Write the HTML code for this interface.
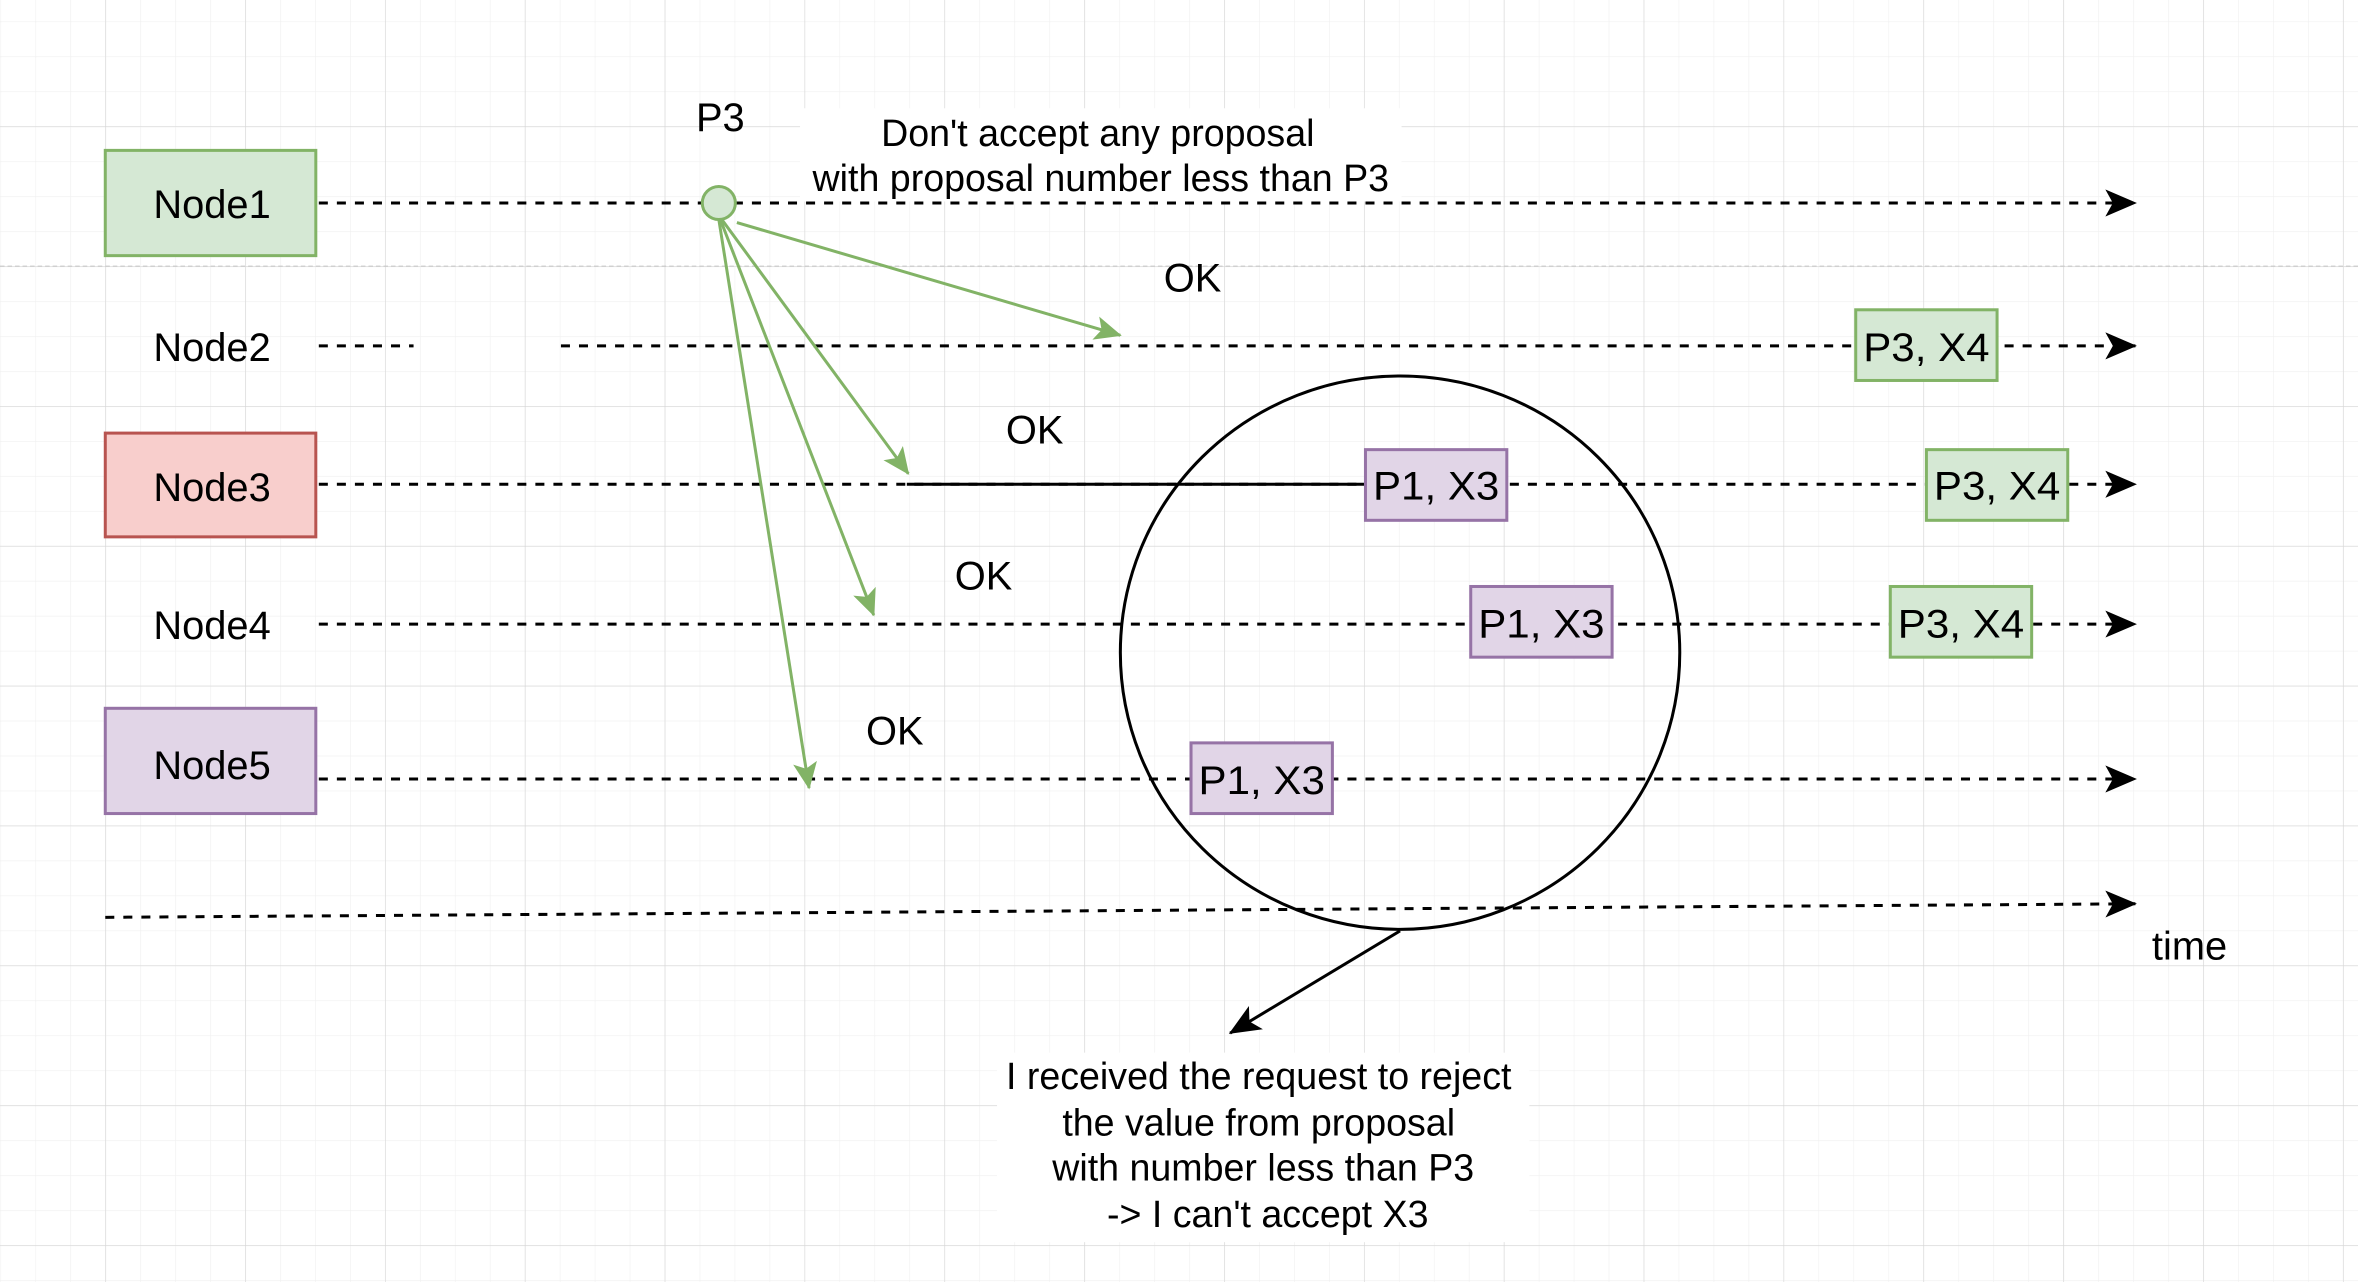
<!DOCTYPE html>
<html><head><meta charset="utf-8"><style>
html,body{margin:0;padding:0;background:#fff;}
svg{display:block;}
text{font-family:"Liberation Sans",sans-serif;fill:#000;}
</style></head><body>
<svg width="2358" height="1282" viewBox="0 0 1568 852.5" xmlns="http://www.w3.org/2000/svg">
<defs>
<pattern id="minor" x="0" y="0" width="23.25" height="23.25" patternUnits="userSpaceOnUse" patternTransform="translate(70,84)">
<path d="M0 0H23.25M0 0V23.25" stroke="#f0f0f0" stroke-width="0.8" fill="none"/>
</pattern>
<pattern id="major" x="0" y="0" width="93" height="93" patternUnits="userSpaceOnUse" patternTransform="translate(70,84)">
<path d="M0 0H93M0 0V93" stroke="#d6d6d6" stroke-width="0.8" fill="none"/>
</pattern>
<marker id="ag" markerWidth="20" markerHeight="20" refX="17" refY="10" orient="auto" markerUnits="userSpaceOnUse" viewBox="0 0 20 20">
<path d="M0 2L18 10L0 18L4 10Z" fill="#82b366"/>
</marker>
<marker id="ak" markerWidth="22" markerHeight="22" refX="20" refY="11" orient="auto" markerUnits="userSpaceOnUse" viewBox="0 0 22 22">
<path d="M0 2L21 11L0 20L5 11Z" fill="#000"/>
</marker>
</defs>
<rect width="1568" height="852.5" fill="url(#minor)"/>
<rect width="1568" height="852.5" fill="url(#major)"/>
<line x1="0" y1="177" x2="1568" y2="177" stroke="#c8c8c8" stroke-dasharray="3 2" stroke-width="0.8"/>

<g stroke="#000" stroke-width="2" fill="none" stroke-dasharray="6 6">
<line x1="212" y1="135" x2="1420" y2="135" marker-end="url(#ak)"/>
<line x1="212" y1="230" x2="275" y2="230"/>
<line x1="373" y1="230" x2="1420" y2="230" marker-end="url(#ak)"/>
<line x1="212" y1="322" x2="1420" y2="322" marker-end="url(#ak)"/>
<line x1="212" y1="415" x2="1420" y2="415" marker-end="url(#ak)"/>
<line x1="212" y1="518" x2="1420" y2="518" marker-end="url(#ak)"/>
<line x1="70" y1="610" x2="1420" y2="601" marker-end="url(#ak)"/>
</g>
<line x1="603" y1="322" x2="908" y2="322" stroke="#000" stroke-width="2"/>

<ellipse cx="931" cy="434" rx="186" ry="184" fill="none" stroke="#000" stroke-width="2"/>
<line x1="931" y1="619" x2="818" y2="687" stroke="#000" stroke-width="2" marker-end="url(#ak)"/>

<g stroke="#82b366" stroke-width="2" fill="none">
<line x1="490" y1="148" x2="745" y2="223" marker-end="url(#ag)"/>
<line x1="480" y1="146" x2="604" y2="315" marker-end="url(#ag)"/>
<line x1="479" y1="146" x2="581" y2="409" marker-end="url(#ag)"/>
<line x1="478" y1="146" x2="538" y2="524" marker-end="url(#ag)"/>
</g>
<circle cx="478" cy="135" r="11" fill="#d5e8d4" stroke="#82b366" stroke-width="2"/>

<g stroke-width="2">
<rect x="70" y="100" width="140" height="70" fill="#d5e8d4" stroke="#82b366"/>
<rect x="70" y="288" width="140" height="69" fill="#f8cecc" stroke="#b85450"/>
<rect x="70" y="471" width="140" height="70" fill="#e1d5e7" stroke="#9673a6"/>
<rect x="908" y="299" width="94" height="47" fill="#e1d5e7" stroke="#9673a6"/>
<rect x="978" y="390" width="94" height="47" fill="#e1d5e7" stroke="#9673a6"/>
<rect x="792" y="494" width="94" height="47" fill="#e1d5e7" stroke="#9673a6"/>
<rect x="1234" y="206" width="94" height="47" fill="#d5e8d4" stroke="#82b366"/>
<rect x="1281" y="299" width="94" height="47" fill="#d5e8d4" stroke="#82b366"/>
<rect x="1257" y="390" width="94" height="47" fill="#d5e8d4" stroke="#82b366"/>
</g>

<rect x="532" y="72" width="400" height="62" fill="#fff"/>
<rect x="663" y="700" width="354" height="126" fill="#fff"/>

<g font-size="26.5" text-anchor="middle">
<text x="141" y="145">Node1</text>
<text x="141" y="240">Node2</text>
<text x="141" y="333">Node3</text>
<text x="141" y="425">Node4</text>
<text x="141" y="518">Node5</text>
<text x="955" y="332" textLength="84" lengthAdjust="spacingAndGlyphs">P1, X3</text>
<text x="1025" y="424" textLength="84" lengthAdjust="spacingAndGlyphs">P1, X3</text>
<text x="839" y="528" textLength="84" lengthAdjust="spacingAndGlyphs">P1, X3</text>
<text x="1281" y="240" textLength="84" lengthAdjust="spacingAndGlyphs">P3, X4</text>
<text x="1328" y="332" textLength="84" lengthAdjust="spacingAndGlyphs">P3, X4</text>
<text x="1304" y="424" textLength="84" lengthAdjust="spacingAndGlyphs">P3, X4</text>
<text x="479" y="87">P3</text>
<text x="793" y="194">OK</text>
<text x="688" y="295">OK</text>
<text x="654" y="392">OK</text>
<text x="595" y="495">OK</text>
<text x="1456" y="638">time</text>
</g>
<g font-size="25" text-anchor="middle">
<text x="730" y="97">Don't accept any proposal</text>
<text x="732" y="127">with proposal number less than P3</text>
<text x="837" y="724">I received the request to reject</text>
<text x="837" y="755">the value from proposal</text>
<text x="840" y="785">with number less than P3</text>
<text x="843" y="816">-&gt; I can't accept X3</text>
</g>
</svg>
</body></html>
